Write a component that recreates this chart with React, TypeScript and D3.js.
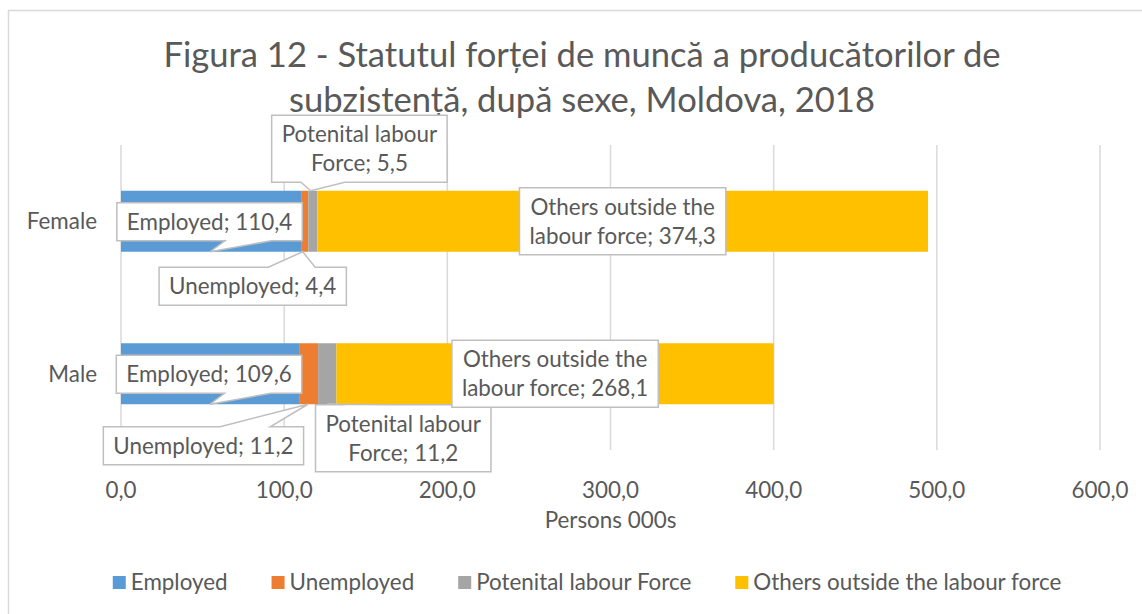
import React, { useEffect, useRef } from 'react';
import * as d3 from 'd3';

const titleLines = [
  'Figura 12 - Statutul forței de muncă a producătorilor de',
  'subzistență, după sexe, Moldova, 2018',
];
const categories = ['Female', 'Male'];
const seriesNames = ['Employed', 'Unemployed', 'Potenital labour Force', 'Others outside the labour force'];
const femaleValues = [110.4, 4.4, 5.5, 374.3];
const maleValues = [109.6, 11.2, 11.2, 268.1];
const xTicks = [0, 100, 200, 300, 400, 500, 600];
const axisTitle = 'Persons 000s';

const colors = ['#5B9BD5', '#ED7D31', '#A5A5A5', '#FFC000'];
const FONT = "Lato, 'Open Sans', sans-serif";
const TEXT = '#595959';
const GRID = '#d9d9d9';
const FS = 22.4;
const TITLE_FS = 34.6;

// label box placement (pixel offsets from the segment centre) – layout only
const labelLayout: Record<string, { dx: number; dy: number; tipDx?: number; tip?: 'top' | 'bottom' }[]> = {
  Female: [
    { dx: -1.5, dy: 0.5, tipDx: -1, tip: 'bottom' },
    { dx: -52, dy: 65, tipDx: -2, tip: 'bottom' },
    { dx: 46.6, dy: -72.5, tipDx: -2, tip: 'top' },
    { dx: 0, dy: 0 },
  ],
  Male: [
    { dx: -1.4, dy: 0.5, tipDx: -0.5, tip: 'bottom' },
    { dx: -105.5, dy: 72, tipDx: -1, tip: 'bottom' },
    { dx: 76, dy: 64.5, tipDx: 0, tip: 'bottom' },
    { dx: 0, dy: 0 },
  ],
};

const fmt = (v: number) => d3.format('.1f')(v).replace('.', ',');

function calloutPath(l: number, t: number, w: number, h: number, px?: number, py?: number) {
  const r = l + w, b = t + h;
  if (px === undefined || py === undefined || (px >= l && px <= r && py >= t && py <= b)) {
    return `M${l},${t}H${r}V${b}H${l}Z`;
  }
  const cx = l + w / 2, cy = t + h / 2;
  const dx = px - cx, dy = py - cy;
  if (Math.abs(dy) / h >= Math.abs(dx) / w) {
    const x1 = l + w * (dx > 0 ? 7 / 12 : 2 / 12);
    const x2 = l + w * (dx > 0 ? 10 / 12 : 5 / 12);
    if (dy > 0) return `M${l},${t}H${r}V${b}H${x2}L${px},${py}L${x1},${b}H${l}Z`;
    return `M${l},${t}H${x1}L${px},${py}L${x2},${t}H${r}V${b}H${l}Z`;
  } else {
    const y1 = t + h * (dy > 0 ? 7 / 12 : 2 / 12);
    const y2 = t + h * (dy > 0 ? 10 / 12 : 5 / 12);
    if (dx > 0) return `M${l},${t}H${r}V${y1}L${px},${py}L${r},${y2}V${b}H${l}Z`;
    return `M${l},${t}H${r}V${b}H${l}V${y2}L${px},${py}L${l},${y1}Z`;
  }
}

export default function App() {
  const ref = useRef<SVGSVGElement>(null);

  useEffect(() => {
    const svg = d3.select(ref.current!);
    svg.selectAll('*').remove();

    const W = 1142, H = 614;
    const plot = { left: 121, right: 1100, top: 145, bottom: 450 };

    svg.append('rect').attr('x', 0).attr('y', 0).attr('width', W).attr('height', H).attr('fill', '#fff');
    svg.append('rect').attr('x', 8.5).attr('y', 10.5).attr('width', W + 20).attr('height', H + 20)
      .attr('fill', '#fff').attr('stroke', GRID).attr('stroke-width', 1.5);

    const x = d3.scaleLinear().domain([0, 600]).range([plot.left, plot.right]);
    const y = d3.scaleBand().domain(categories).range([plot.top, plot.bottom]).paddingInner(0.6).paddingOuter(0.3);

    // title
    const title = svg.append('g').attr('font-family', FONT).attr('fill', TEXT).attr('font-size', TITLE_FS).attr('text-anchor', 'middle');
    titleLines.forEach((t, i) => {
      title.append('text').attr('x', 582).attr('y', 67 + i * 45).text(t);
    });

    // gridlines
    svg.append('g').selectAll('line').data(xTicks).join('line')
      .attr('x1', (d) => x(d)).attr('x2', (d) => x(d))
      .attr('y1', plot.top).attr('y2', plot.bottom)
      .attr('stroke', GRID).attr('stroke-width', 1.5);

    // tick labels
    svg.append('g').selectAll('text').data(xTicks).join('text')
      .attr('x', (d) => x(d)).attr('y', 498)
      .attr('text-anchor', 'middle').attr('font-family', FONT).attr('font-size', FS).attr('fill', TEXT)
      .text((d) => fmt(d));

    svg.append('text').attr('x', (plot.left + plot.right) / 2).attr('y', 528)
      .attr('text-anchor', 'middle').attr('font-family', FONT).attr('font-size', FS).attr('fill', TEXT)
      .text(axisTitle);

    // category labels
    svg.append('g').selectAll('text').data(categories).join('text')
      .attr('x', 97).attr('y', (d) => y(d)! + y.bandwidth() / 2 + 8)
      .attr('text-anchor', 'end').attr('font-family', FONT).attr('font-size', FS).attr('fill', TEXT)
      .text((d) => d);

    const valuesByCat: Record<string, number[]> = { Female: femaleValues, Male: maleValues };

    // bars
    const barsG = svg.append('g');
    categories.forEach((cat) => {
      const vals = valuesByCat[cat];
      let acc = 0;
      vals.forEach((v, i) => {
        barsG.append('rect')
          .attr('x', x(acc)).attr('y', y(cat)!)
          .attr('width', x(acc + v) - x(acc)).attr('height', y.bandwidth())
          .attr('fill', colors[i]);
        acc += v;
      });
    });

    // labels
    const labelsG = svg.append('g');
    const measure = svg.append('text').attr('font-family', FONT).attr('font-size', FS).attr('visibility', 'hidden');
    const textW = (s: string) => { measure.text(s); return (measure.node() as SVGTextElement).getComputedTextLength(); };
    const wrapW = 205;
    const lineH = 29;

    categories.forEach((cat) => {
      const vals = valuesByCat[cat];
      let acc = 0;
      vals.forEach((v, i) => {
        const segCx = x(acc + v / 2);
        const segCy = y(cat)! + y.bandwidth() / 2;
        acc += v;
        const lay = labelLayout[cat][i];
        const words = `${seriesNames[i]}; ${fmt(v)}`.split(' ');
        const lines: string[] = [];
        let cur = '';
        words.forEach((wd) => {
          const test = cur ? cur + ' ' + wd : wd;
          if (cur && textW(test) > wrapW) { lines.push(cur); cur = wd; } else cur = test;
        });
        lines.push(cur);
        const maxW = d3.max(lines, (l) => textW(l))!;
        const bw = maxW + 20;
        const bh = lines.length * lineH + 9;
        const cx = segCx + lay.dx, cy = segCy + lay.dy;
        const l = cx - bw / 2, t = cy - bh / 2;
        let px: number | undefined, py: number | undefined;
        if (lay.tip) {
          px = segCx + (lay.tipDx || 0);
          py = lay.tip === 'bottom' ? y(cat)! + y.bandwidth() : y(cat)!;
        }
        labelsG.append('path').attr('d', calloutPath(l, t, bw, bh, px, py))
          .attr('fill', '#fff').attr('stroke', '#bfbfbf').attr('stroke-width', 1.5).attr('stroke-linejoin', 'miter');
        lines.forEach((ln, k) => {
          labelsG.append('text')
            .attr('x', cx).attr('y', cy + (k - (lines.length - 1) / 2) * lineH + 8)
            .attr('text-anchor', 'middle').attr('font-family', FONT).attr('font-size', FS).attr('fill', TEXT)
            .text(ln);
        });
      });
    });

    // legend
    const legendG = svg.append('g');
    const sq = 13, gap = 5, itemGap = 44;
    const widths = seriesNames.map((s) => textW(s));
    const total = d3.sum(widths) + seriesNames.length * (sq + gap) + (seriesNames.length - 1) * itemGap;
    let lx = 587 - total / 2;
    seriesNames.forEach((s, i) => {
      legendG.append('rect').attr('x', lx).attr('y', 576).attr('width', sq).attr('height', sq).attr('fill', colors[i]);
      legendG.append('text').attr('x', lx + sq + gap).attr('y', 590)
        .attr('font-family', FONT).attr('font-size', FS).attr('fill', TEXT).text(s);
      lx += sq + gap + widths[i] + itemGap;
    });
    measure.remove();
  }, []);

  return (
    <svg ref={ref} width={1142} height={614} style={{ position: 'absolute', left: 0, top: 0 }} />
  );
}
